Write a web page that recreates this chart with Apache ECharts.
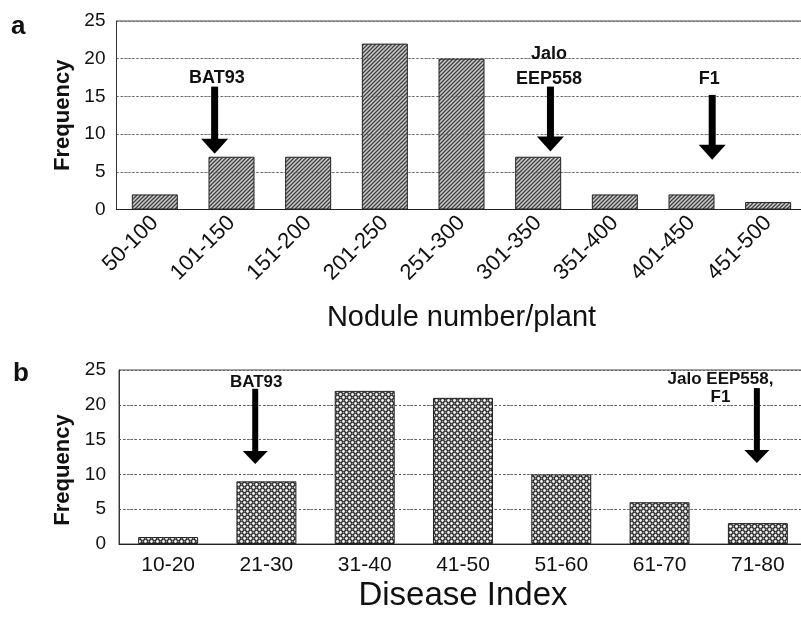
<!DOCTYPE html>
<html>
<head>
<meta charset="utf-8">
<script src="https://cdn.jsdelivr.net/npm/echarts@6/dist/echarts.min.js"></script>
<style>
html,body{margin:0;padding:0;background:#fff;}
#chart{width:801px;height:620px;}
</style>
</head>
<body>
<div id="chart"></div>
<script>
// ---- Data ----
const catsA = ['50-100','101-150','151-200','201-250','251-300','301-350','351-400','401-450','451-500'];
const valsA = [2, 7, 7, 22, 20, 7, 2, 2, 1];
const catsB = ['10-20','21-30','31-40','41-50','51-60','61-70','71-80'];
const valsB = [1, 9, 22, 21, 10, 6, 3];
const yTicks = [0, 5, 10, 15, 20, 25];

// arrow annotations (category-index position, value at arrow top, value at arrow tip)
const arrowAX = [0.78, 5.16, 7.27];
const arrowATop = [16.3, 16.3, 15.2];
const arrowATip = [7.4, 7.7, 6.6];
const labelAX = [0.81, 5.14, 7.23];
const labelAY = [17.5, 19.0, 17.35];
const labelAText = ['BAT93', 'Jalo\nEEP558', 'F1'];

const arrowBX = [0.886, 5.99];
const arrowBTop = [22.3, 22.4];
const arrowBTip = [11.5, 11.65];
const labelBX = [0.896, 5.62];
const labelBY = [23.3, 22.3];
const labelBText = ['BAT93', 'Jalo EEP558,\nF1'];

const FONT = '"Liberation Sans", Arial, Helvetica, sans-serif';

// ---- Patterns ----
function hatchTile() {
  const c = document.createElement('canvas');
  c.width = 4; c.height = 4;
  const g = c.getContext('2d');
  g.fillStyle = '#cccccc';
  g.fillRect(0, 0, 4, 4);
  g.strokeStyle = '#404040';
  g.lineWidth = 1.3;
  g.beginPath();
  g.moveTo(-1, 5); g.lineTo(5, -1);
  g.moveTo(-1, 1); g.lineTo(1, -1);
  g.moveTo(3, 5); g.lineTo(5, 3);
  g.stroke();
  return c;
}
function dotTile() {
  const c = document.createElement('canvas');
  c.width = 6; c.height = 6;
  const g = c.getContext('2d');
  g.fillStyle = '#2a2a2a';
  g.fillRect(0, 0, 6, 6);
  g.fillStyle = '#f4f4f4';
  [[1.5,1.5],[4.5,4.5]].forEach(p => {
    g.beginPath(); g.arc(p[0], p[1], 1.45, 0, Math.PI*2); g.fill();
  });
  g.fillStyle = '#8a8a8a';
  [[4.5,1.5],[1.5,4.5]].forEach(p => {
    g.beginPath(); g.arc(p[0], p[1], 0.9, 0, Math.PI*2); g.fill();
  });
  return c;
}
const patA = {image: hatchTile(), repeat: 'repeat'};
const patB = {image: dotTile(), repeat: 'repeat'};

function arrowRenderer(labels, lx, ly, shaftW, headW, headH, fontSize, lineH) {
  return function (params, api) {
    const i = params.dataIndex;
    const x = api.value(0), top = api.value(1), tip = api.value(2);
    const pTop = api.coord([x, top]);
    const pTip = api.coord([x, tip]);
    const pLab = api.coord([lx[i], ly[i]]);
    return {
      type: 'group',
      children: [
        {type: 'rect', shape: {x: pTop[0] - shaftW/2, y: pTop[1], width: shaftW, height: (pTip[1] - headH + 1) - pTop[1]}, style: {fill: '#000'}},
        {type: 'polygon', shape: {points: [[pTip[0] - headW/2, pTip[1] - headH], [pTip[0] + headW/2, pTip[1] - headH], [pTip[0], pTip[1]]]}, style: {fill: '#000'}},
        {type: 'text', style: {text: labels[i], x: pLab[0], y: pLab[1], align: 'center', verticalAlign: 'middle', fill: '#111', fontSize: fontSize, fontWeight: 'bold', fontFamily: FONT, lineHeight: lineH}}
      ]
    };
  };
}

const gridLineStyle = {color: '#666', type: [2, 2], width: 1};

const chart = echarts.init(document.getElementById('chart'), null, {renderer: 'canvas'});
const option = {
  backgroundColor: '#fff',
  animation: false,
  textStyle: {fontFamily: FONT},
  grid: [
    {left: 116.5, top: 21, width: 690, height: 188.5, show: true, borderColor: '#444', borderWidth: 1, containLabel: false, outerBoundsMode: 'none'},
    {left: 119, top: 370, width: 688, height: 174, show: true, borderColor: '#444', borderWidth: 1, containLabel: false, outerBoundsMode: 'none'}
  ],
  graphic: [
    {type: 'text', left: 11, top: 14, style: {text: 'a', fontSize: 26, fontWeight: 'bold', fontFamily: FONT, fill: '#111'}},
    {type: 'text', left: 13, top: 361, style: {text: 'b', fontSize: 26, fontWeight: 'bold', fontFamily: FONT, fill: '#111'}}
  ],
  xAxis: [
    {type: 'category', gridIndex: 0, data: catsA,
     name: 'Nodule number/plant', nameLocation: 'middle', nameGap: 94,
     nameTextStyle: {fontSize: 29, color: '#111', fontFamily: FONT},
     axisLine: {lineStyle: {color: '#222', width: 1.2}}, axisTick: {show: false},
     axisLabel: {rotate: 45, interval: 0, fontSize: 22, margin: 10, color: '#111', fontFamily: FONT}},
    {type: 'category', gridIndex: 1, data: catsB,
     name: 'Disease Index', nameLocation: 'middle', nameGap: 35,
     nameTextStyle: {fontSize: 33, color: '#111', fontFamily: FONT},
     axisLine: {lineStyle: {color: '#222', width: 1.2}}, axisTick: {show: false},
     axisLabel: {interval: 0, fontSize: 21, margin: 11, color: '#111', fontFamily: FONT}},
    {type: 'value', gridIndex: 0, min: -0.5, max: catsA.length - 0.5, show: false},
    {type: 'value', gridIndex: 1, min: -0.5, max: catsB.length - 0.5, show: false}
  ],
  yAxis: [
    {type: 'value', gridIndex: 0, min: yTicks[0], max: yTicks[yTicks.length-1], interval: 5,
     name: 'Frequency', nameLocation: 'middle', nameGap: 37,
     nameTextStyle: {fontSize: 22, fontWeight: 'bold', color: '#111', fontFamily: FONT},
     axisLine: {show: true, onZero: false, lineStyle: {color: '#333', width: 1}}, axisTick: {show: false},
     axisLabel: {fontSize: 19, margin: 11, color: '#111', fontFamily: FONT},
     splitLine: {show: true, lineStyle: gridLineStyle}},
    {type: 'value', gridIndex: 1, min: yTicks[0], max: yTicks[yTicks.length-1], interval: 5,
     name: 'Frequency', nameLocation: 'middle', nameGap: 44,
     nameTextStyle: {fontSize: 22, fontWeight: 'bold', color: '#111', fontFamily: FONT, padding: [0, 26, 0, 0]},
     axisLine: {show: true, onZero: false, lineStyle: {color: '#333', width: 1}}, axisTick: {show: false},
     axisLabel: {fontSize: 19, margin: 13, color: '#111', fontFamily: FONT},
     splitLine: {show: true, lineStyle: gridLineStyle}}
  ],
  series: [
    {type: 'bar', xAxisIndex: 0, yAxisIndex: 0, data: valsA, barCategoryGap: '40%',
     itemStyle: {color: patA, borderColor: '#222', borderWidth: 1},
     markLine: {silent: true, symbol: 'none', label: {show: false}, lineStyle: {color: '#555', type: [2, 3], width: 1, opacity: 0.6},
       data: yTicks.slice(1, -1).map(v => ({yAxis: v}))}},
    {type: 'bar', xAxisIndex: 1, yAxisIndex: 1, data: valsB, barCategoryGap: '39%',
     itemStyle: {color: patB, borderColor: '#222', borderWidth: 1},
     markLine: {silent: true, symbol: 'none', label: {show: false}, lineStyle: {color: '#555', type: [2, 3], width: 1, opacity: 0.6},
       data: yTicks.slice(1, -1).map(v => ({yAxis: v}))}},
    {type: 'custom', xAxisIndex: 2, yAxisIndex: 0, z: 10,
     renderItem: arrowRenderer(labelAText, labelAX, labelAY, 7, 27, 15, 18, 25),
     data: arrowAX.map((x, i) => [x, arrowATop[i], arrowATip[i]])},
    {type: 'custom', xAxisIndex: 3, yAxisIndex: 1, z: 10,
     renderItem: arrowRenderer(labelBText, labelBX, labelBY, 6, 25, 13, 17, 18),
     data: arrowBX.map((x, i) => [x, arrowBTop[i], arrowBTip[i]])}
  ]
};
chart.setOption(option);
</script>
</body>
</html>
